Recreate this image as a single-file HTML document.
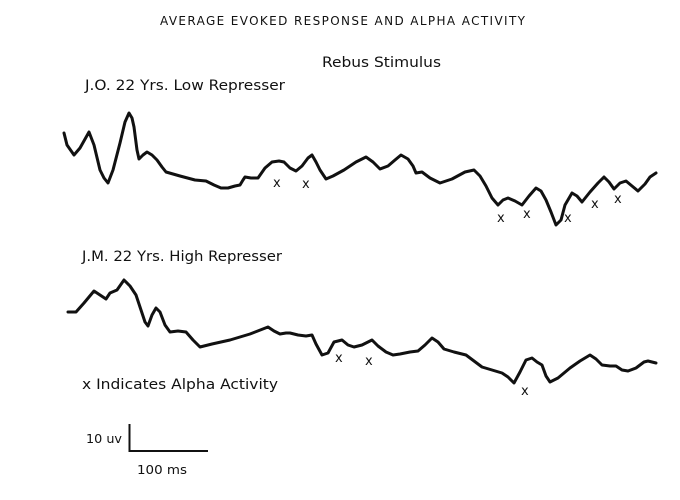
<!DOCTYPE html>
<html><head><meta charset="utf-8"><style>
html,body{margin:0;padding:0;background:#fff;}
svg{display:block;}
text{font-family:"DejaVu Sans","Liberation Sans",sans-serif;fill:#111;}
</style></head><body>
<svg width="680" height="500" viewBox="0 0 680 500" xmlns="http://www.w3.org/2000/svg">
<text x="160" y="25" font-size="12" textLength="365" lengthAdjust="spacing">AVERAGE EVOKED RESPONSE AND  ALPHA ACTIVITY</text>
<text x="322" y="67" font-size="14" textLength="119" lengthAdjust="spacingAndGlyphs">Rebus Stimulus</text>
<text x="85" y="90" font-size="14" textLength="200" lengthAdjust="spacingAndGlyphs">J.O. 22 Yrs.  Low Represser</text>
<text x="82" y="261" font-size="14" textLength="200" lengthAdjust="spacingAndGlyphs">J.M. 22 Yrs.  High Represser</text>
<text x="82" y="389" font-size="14" textLength="196" lengthAdjust="spacingAndGlyphs">x Indicates Alpha Activity</text>
<text x="86" y="443" font-size="12" textLength="36" lengthAdjust="spacingAndGlyphs">10 uv</text>
<text x="137" y="474" font-size="12" textLength="50" lengthAdjust="spacingAndGlyphs">100 ms</text>
<path d="M129.5 424 V451 H208" fill="none" stroke="#111" stroke-width="2"/>
<g fill="none" stroke="#111" stroke-width="3" stroke-linejoin="round" stroke-linecap="round">
<polyline points="64,133 67,145 74,155 80,148 89,132 94,145 100,170 104,178 108,183 113,170 120,143 125,122 129,113 132,118 134,127 137,150 139,159 143,155 147,152 152,155 157,160 162,167 166,172 180,176 195,180 206,181 214,185 221,188 228,188 235,186 240,185 243,180 245,177 251,178 258,178 265,168 272,162 279,161 284,162 290,168 296,171 302,166 308,158 312,155 316,162 320,170 326,179 333,176 344,170 356,162 366,157 373,162 380,169 388,166 395,160 401,155 408,159 413,166 416,173 422,172 430,178 440,183 452,179 465,172 474,170 480,176 486,186 492,198 498,205 503,200 508,198 515,201 522,205 529,196 536,188 541,191 546,200 551,212 556,225 561,220 565,205 572,193 577,196 582,202 590,192 598,183 604,177 609,182 614,189 620,183 626,181 632,186 638,191 645,184 650,177 656,173"/>
<polyline points="68,312 76,312 84,303 94,291 100,295 106,299 110,293 117,290 124,280 130,286 136,295 141,310 145,322 148,326 152,315 156,308 160,312 165,325 170,332 178,331 186,332 193,340 200,347 212,344 230,340 250,334 268,327 274,331 280,334 286,333 290,333 298,335 306,336 312,335 316,344 322,355 328,353 334,342 342,340 348,345 354,347 362,345 372,340 378,346 386,352 393,355 400,354 410,352 418,351 425,345 432,338 438,342 444,349 454,352 466,355 474,361 482,367 492,370 502,373 508,377 514,383 520,372 526,360 532,358 537,362 542,365 546,376 550,382 558,378 570,368 580,361 590,355 596,359 602,365 610,366 616,366 622,370 628,371 636,368 644,362 648,361 656,363"/>
</g>
<g font-size="13" font-family="Liberation Sans,sans-serif">
<text x="273" y="187">x</text><text x="302" y="188">x</text>
<text x="497" y="222">x</text><text x="523" y="218">x</text><text x="564" y="222">x</text>
<text x="591" y="208">x</text><text x="614" y="203">x</text>
<text x="335" y="362">x</text><text x="365" y="365">x</text><text x="521" y="395">x</text>
</g>
</svg>
</body></html>
